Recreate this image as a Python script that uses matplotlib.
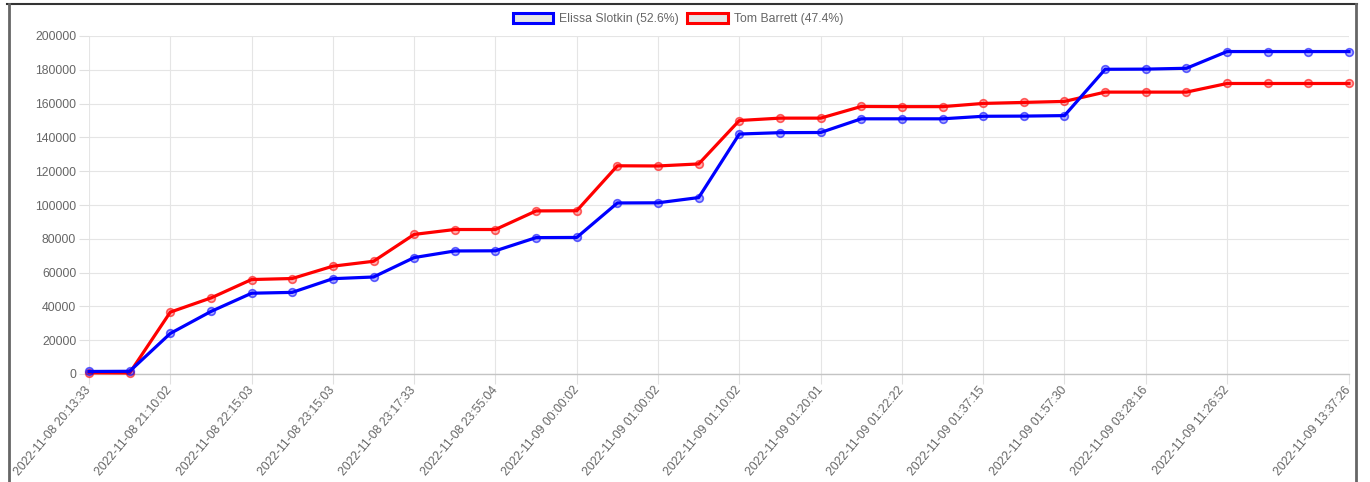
import matplotlib.pyplot as plt
from matplotlib.lines import Line2D
from matplotlib.patches import Rectangle

plt.rcParams['font.family'] = ['Liberation Sans', 'DejaVu Sans']

# vote totals at each reporting update (32 updates)
slotkin = [1500, 1600, 24000, 37000, 47800, 48300, 56400, 57400, 68900, 72800,
           72900, 80700, 80800, 101200, 101300, 104400, 142000, 142800, 142900, 151000,
           151000, 151000, 152500, 152600, 152900, 180300, 180400, 180900, 190800, 190800,
           190800, 190800]
barrett = [700, 600, 36600, 45000, 55900, 56500, 63800, 66700, 82600, 85500,
           85500, 96500, 96600, 123200, 123100, 124300, 150000, 151400, 151400, 158300,
           158200, 158200, 160100, 160700, 161300, 166800, 166800, 166800, 171900, 171900,
           171900, 171900]

# labels shown under the axis (every other update plus the last one)
tick_labels = ['2022-11-08 20:13:33', '2022-11-08 21:10:02', '2022-11-08 22:15:03',
               '2022-11-08 23:15:03', '2022-11-08 23:17:33', '2022-11-08 23:55:04',
               '2022-11-09 00:00:02', '2022-11-09 01:00:02', '2022-11-09 01:10:02',
               '2022-11-09 01:20:01', '2022-11-09 01:22:22', '2022-11-09 01:37:15',
               '2022-11-09 01:57:30', '2022-11-09 03:28:16', '2022-11-09 11:26:52',
               '2022-11-09 13:37:26']
names = ['Elissa Slotkin (52.6%)', 'Tom Barrett (47.4%)']

W, H = 1370, 482
fig = plt.figure(figsize=(W / 100, H / 100), dpi=100)
ax = fig.add_axes([89 / W, (H - 374) / H, (1349 - 89) / W, (374 - 36) / H])

x = list(range(len(slotkin)))
n = len(x)
ticks = list(range(0, n - 2, 2)) + [n - 1]

for vals, col, face in [(barrett, '#ff0000', (1, 0, 0, 0.3)),
                        (slotkin, '#0000ff', (0, 0, 1, 0.3))]:
    ax.plot(x, vals, color=col, lw=2.3, marker='o', ms=5.5,
            mfc=face, mec=col[:7] + '99', mew=1.2, clip_on=False, zorder=3)

ax.set_xlim(0, n - 1)
ax.set_ylim(0, 200000)
ax.set_yticks(range(0, 200001, 20000))
ax.set_xticks(ticks)
ax.set_xticklabels(tick_labels, rotation=50, ha='right', va='center',
                   rotation_mode='anchor')
for lab in ax.get_xticklabels():
    lab.set_y(lab.get_position()[1])
ax.tick_params(axis='both', length=7.2, width=0.8, color='#e0e0e0',
               labelcolor='#666666', labelsize=8.8)
ax.tick_params(axis='x', pad=3)
ax.tick_params(axis='y', pad=2)
ax.grid(True, color='#e5e5e5', lw=0.8)
ax.set_axisbelow(True)
for s in ['top', 'right', 'left']:
    ax.spines[s].set_visible(False)
ax.spines['bottom'].set_color('#c4c4c4')
ax.spines['bottom'].set_linewidth(1.0)

handles = [Rectangle((0, 0), 1, 1, facecolor='#e5e5e5', edgecolor=c, lw=2.2)
           for c in ['#0000ff', '#ff0000']]
fig.legend(handles, names, loc='center', bbox_to_anchor=(678 / W, 1 - 19 / H),
           ncol=2, frameon=False, fontsize=8.8, labelcolor='#666666',
           handlelength=3.3, handleheight=0.9, handletextpad=0.5, columnspacing=0.7)

# page frame around the chart
fig.add_artist(Line2D([7 / W, 1357 / W], [1 - 4 / H, 1 - 4 / H], color='#333333', lw=1.5))
fig.add_artist(Line2D([9 / W, 9 / W], [0, 1 - 4 / H], color='#666666', lw=2))
fig.add_artist(Line2D([1356 / W, 1356 / W], [0, 1 - 4 / H], color='#666666', lw=2))

fig.savefig('out.png', dpi=100)
